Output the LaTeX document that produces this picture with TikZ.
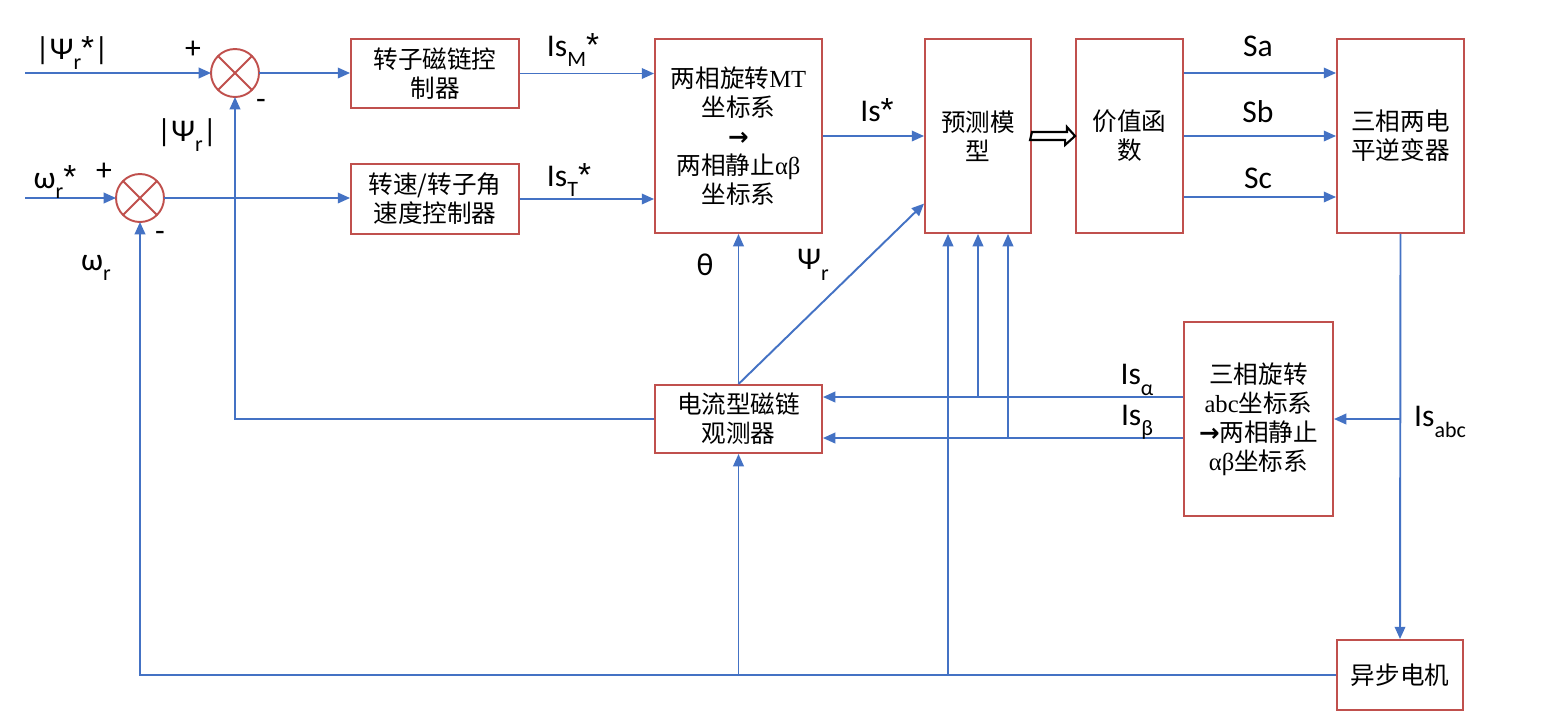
\documentclass[tikz,border=0pt]{standalone}
\usepackage{fontspec}
\setmainfont{Carlito}
\newfontfamily\cjk{Noto Sans CJK SC}
\newfontfamily\serifl{Liberation Serif}
\newfontfamily\djv{DejaVu Sans}
\newfontfamily\lsans{Liberation Sans}
\usetikzlibrary{arrows.meta,calc}
\definecolor{lblue}{HTML}{4472C4}
\definecolor{bred}{HTML}{C0504D}
\newcommand\subs[1]{\raisebox{-0.33em}{\fontsize{12.5}{12.5}\selectfont #1}}
\newcommand\astr{{\lsans\fontsize{19}{19}\selectfont *}}
\newcommand\barr{{\djv\bfseries →}}
\begin{document}
\begin{tikzpicture}[x=0.02cm,y=-0.02cm,
  blk/.style={draw=bred, line width=1.1pt, fill=white, align=center, inner sep=0pt,
    font=\cjk\fontsize{14}{16.5}\selectfont},
  ln/.style={draw=lblue, line width=1.1pt},
  arr/.style={ln, -{Triangle[length=7pt,width=6pt]}},
  lab/.style={font=\fontsize{18}{20}\selectfont, inner sep=0pt},
  sgn/.style={font=\fontsize{18}{18}\selectfont, inner sep=0pt},
  sumn/.style={circle, draw=bred, line width=1.1pt, fill=white, minimum size=0.96cm, inner sep=0pt, outer sep=0pt}
]
\useasboundingbox[fill=white] (0,0) rectangle (1545,725);

% summing junctions
\node[sumn] (s1) at (235,73) {};
\node[sumn] (s2) at (140,198) {};
\draw[bred, line width=1.1pt] (s1.north east) -- (s1.south west) (s1.north west) -- (s1.south east);
\draw[bred, line width=1.1pt] (s2.north east) -- (s2.south west) (s2.north west) -- (s2.south east);

% blocks
\node[blk, minimum width=3.36cm, minimum height=1.38cm] (b1) at (435,73.5) {转子磁链控\\制器};
\node[blk, minimum width=3.36cm, minimum height=1.40cm] (b2) at (435,199) {转速/转子角\\速度控制器};
\node[blk, minimum width=3.34cm, minimum height=3.88cm] (mt) at (738.5,136) {两相旋转{\serifl MT}\\坐标系\\\barr{}\\两相静止{\serifl αβ}\\坐标系};
\node[blk, minimum width=2.12cm, minimum height=3.88cm] (pm) at (978,136) {预测模\\型};
\node[blk, minimum width=2.14cm, minimum height=3.88cm] (val) at (1129.5,136) {价值函\\数};
\node[blk, minimum width=2.54cm, minimum height=3.88cm] (inv) at (1400.5,136) {三相两电\\平逆变器};
\node[blk, minimum width=3.34cm, minimum height=1.36cm] (obs) at (738.5,419) {电流型磁链\\观测器};
\node[blk, minimum width=2.98cm, minimum height=3.88cm] (abc) at (1258.5,419) {三相旋转\\{\serifl abc}坐标系\\\barr{}两相静止\\{\serifl αβ}坐标系};
\node[blk, minimum width=2.52cm, minimum height=1.40cm] (mot) at (1400,675) {异步电机};

% inputs
\coordinate (in1) at (25,73);
\coordinate (in2) at (25,198);
\draw[arr] (in1) -- (s1.west);
\draw[arr] (in2) -- (s2.west);
\draw[arr] (s1.east) -- (s1.east -| b1.west);
\draw[arr] (s2.east) -- (s2.east -| b2.west);
\draw[arr] (b1.east) -- (b1.east -| mt.west);
\draw[arr] (b2.east) -- (b2.east -| mt.west);
\draw[arr] (mt.east) -- (pm.west);

% hollow arrow
\draw[line width=1.2pt, fill=white] (pm.east) ++(0,-4) -- ++(35,0) -- ++(0,-5) -- (val.west) -- ++(-10,9) -- ++(0,-5) -- ++(-35,0) -- cycle;

% switching signals
\draw[arr] ($(val.east)+(0,-63)$) -- ($(inv.west)+(0,-63)$);
\draw[arr] (val.east) -- (inv.west);
\draw[arr] ($(val.east)+(0,61)$) -- ($(inv.west)+(0,61)$);

% inverter to motor and abc block
\draw[arr] (inv.south) -- (mot.north);
\draw[arr] (inv.south |- abc.east) -- (abc.east);

% Is alpha / beta
\coordinate (ia) at ($(abc.west)+(0,-22)$);
\coordinate (ib) at ($(abc.west)+(0,19)$);
\coordinate (pml) at ($(pm.south)+(-30,0)$);
\coordinate (pmr) at ($(pm.south)+(30,0)$);
\draw[arr] (ia) -- (ia -| obs.east);
\draw[arr] (ib) -- (ib -| obs.east);
\draw[arr] (pm.south |- ia) -- (pm.south);
\draw[arr] (pmr |- ib) -- (pmr);

% observer outputs
\coordinate (pmd) at ($(pm.south west)!0.155!(pm.north west)$);
\draw[arr] (obs.north) -- (mt.south);
\draw[arr] (obs.north) -- (pmd);
\draw[arr] (obs.west) -| (s1.south);

% motor feedback
\draw[arr] (mot.west) -| (s2.south);
\draw[arr] (obs.south |- mot.west) -- (obs.south);
\draw[arr] (pml |- mot.west) -- (pml);

% labels
\node[lab] (l1) at (72,53) {|Ψ\subs{r}\astr|};
\node[sgn] (p1) at (193,50) {+};
\node[sgn] (m1) at (261,104) {-};
\node[lab] (l2) at (187,135) {|Ψ\subs{r}|};
\node[lab] (l3) at (55,182) {ω\subs{r}\astr};
\node[sgn] (p2) at (104,172) {+};
\node[sgn] (m2) at (160,236) {-};
\node[lab] (l4) at (96,268) {ω\subs{r}};
\node[lab] (l5) at (573,50) {Is\subs{M}\astr};
\node[lab] (l6) at (569,180) {Is\subs{T}\astr};
\node[lab] (l7) at (877,110) {Is\astr};
\node[lab] (l8) at (705,265) {θ};
\node[lab] (l9) at (813,265) {Ψ\subs{r}};
\node[lab] (l10) at (1258,46) {Sa};
\node[lab] (l11) at (1258,112) {Sb};
\node[lab] (l12) at (1258,178) {Sc};
\node[lab] (l13) at (1137,380) {Is\subs{α}};
\node[lab] (l14) at (1137,422) {Is\subs{β}};
\node[lab] (l15) at (1440,422) {Is\subs{abc}};
\end{tikzpicture}
\end{document}
